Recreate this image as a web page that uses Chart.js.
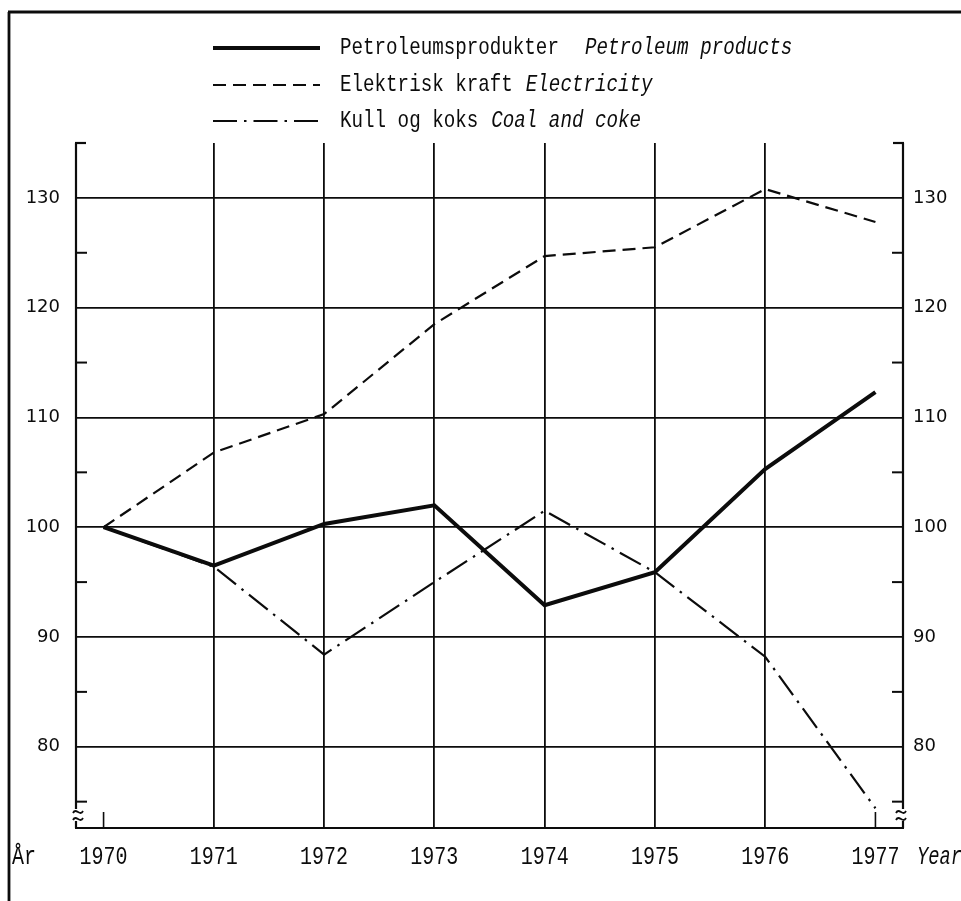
<!DOCTYPE html>
<html>
<head>
<meta charset="utf-8">
<title>Petroleum, electricity, coal 1970-1977</title>
<script src="https://cdn.jsdelivr.net/npm/chart.js@4.4.1/dist/chart.umd.min.js"></script>
<style>
  html, body { margin: 0; padding: 0; background: #fff; }
  canvas { display: block; }
</style>
</head>
<body>
<canvas id="chart" width="961" height="901"></canvas>
<script>
"use strict";
// ========== DATA ========== //
const years = [1970, 1971, 1972, 1973, 1974, 1975, 1976, 1977];
const petroleum = [100, 96.5, 100.3, 102.0, 92.9, 95.9, 105.3, 112.3];
const electricity = [100, 106.8, 110.3, 118.5, 124.7, 125.5, 130.8, 127.8];
const coal = [100, 96.4, 88.4, 95.0, 101.5, 95.9, 88.2, 74.4];
const yTicks = [80, 90, 100, 110, 120, 130];
const yMinorTicks = [75, 85, 95, 105, 115, 125];
const legendNo = ["Petroleumsprodukter", "Elektrisk kraft", "Kull og koks"];
const legendEn = ["Petroleum products", "Electricity", "Coal and coke"];

const INK = "#0c0c0c";
const typeFont = "'Liberation Mono', 'DejaVu Sans Mono', monospace";

// turn a year list + value list into {x, y} points
function toPoints(values) {
  return years.map(function(year, i) { return { x: year, y: values[i] }; });
}

// draw text squeezed horizontally, like the narrow typewriter face
function squeezed(ctx, text, x, y, font, sx, align) {
  ctx.save();
  ctx.font = font;
  let w = ctx.measureText(text).width * sx;
  let left = x;
  if (align === "center") left = x - w / 2;
  if (align === "right") left = x - w;
  ctx.translate(left, y);
  ctx.scale(sx, 1);
  ctx.textAlign = "left";
  ctx.textBaseline = "middle";
  ctx.fillText(text, 0, 0);
  ctx.restore();
  return w;
}

function line(ctx, x1, y1, x2, y2, width, dash) {
  ctx.save();
  ctx.strokeStyle = INK;
  ctx.lineWidth = width;
  ctx.setLineDash(dash || []);
  ctx.beginPath();
  ctx.moveTo(x1, y1);
  ctx.lineTo(x2, y2);
  ctx.stroke();
  ctx.restore();
}

// small "~" style break mark on the frame
function breakMark(ctx, x, y) {
  ctx.save();
  ctx.strokeStyle = INK;
  ctx.lineWidth = 1.8;
  for (let k = 0; k < 2; k++) {
    let yy = y + k * 7;
    ctx.beginPath();
    ctx.moveTo(x - 5, yy + 2);
    ctx.bezierCurveTo(x - 2, yy - 4, x + 2, yy + 6, x + 5, yy);
    ctx.stroke();
  }
  ctx.restore();
}

const seriesStyles = [
  { width: 4, dash: [] },
  { width: 2.2, dash: [13, 7] },
  { width: 2.2, dash: [24, 7, 2.5, 7] }
];

const framePlugin = {
  id: "frame",
  afterDraw(chart) {
    const ctx = chart.ctx;
    const area = chart.chartArea;
    const xs = chart.scales.x;
    const ys = chart.scales.y;

    // outer page border
    line(ctx, 9, 12, 9, 901, 2.8);
    line(ctx, 8, 12, 961, 12, 2.8);

    // plot frame: sides, bottom and top caps
    line(ctx, area.left, area.top, area.left, area.bottom, 2.2);
    line(ctx, area.right, area.top, area.right, area.bottom, 2.2);
    line(ctx, area.left - 1, area.bottom, area.right + 1, area.bottom, 2.2);
    line(ctx, area.left - 1, area.top, area.left + 10, area.top, 2.2);
    line(ctx, area.right - 10, area.top, area.right + 1, area.top, 2.2);

    // minor ticks on both sides
    for (let v of yMinorTicks) {
      let py = ys.getPixelForValue(v);
      line(ctx, area.left, py, area.left + 11, py, 2);
      line(ctx, area.right - 11, py, area.right, py, 2);
    }
    // short ticks for the end years
    for (let yr of [years[0], years[years.length - 1]]) {
      let px = xs.getPixelForValue(yr);
      line(ctx, px, area.bottom - 16, px, area.bottom, 1.6);
    }
    // axis break marks
    ctx.save();
    ctx.fillStyle = "#fff";
    ctx.fillRect(area.left - 3, area.bottom - 19, 6, 12);
    ctx.fillRect(area.right - 3, area.bottom - 19, 6, 12);
    ctx.restore();
    breakMark(ctx, area.left + 2, area.bottom - 17);
    breakMark(ctx, area.right - 2, area.bottom - 17);

    // y labels, left and right
    ctx.save();
    ctx.fillStyle = INK;
    ctx.font = "18px 'DejaVu Sans', sans-serif";
    ctx.textBaseline = "middle";
    for (let v of yTicks) {
      let py = ys.getPixelForValue(v);
      ctx.textAlign = "right";
      ctx.fillText(String(v), 60, py);
      ctx.textAlign = "left";
      ctx.fillText(String(v), 913, py);
    }
    ctx.restore();

    // x labels
    ctx.save();
    ctx.fillStyle = INK;
    for (let yr of years) {
      squeezed(ctx, String(yr), xs.getPixelForValue(yr), 857, "25px " + typeFont, 0.8, "center");
    }
    squeezed(ctx, "År", 12, 857, "25px " + typeFont, 0.8, "left");
    squeezed(ctx, "Year", 917, 857, "italic 25px " + typeFont, 0.75, "left");
    ctx.restore();

    // legend
    const legendY = [48, 85, 121];
    ctx.save();
    ctx.fillStyle = INK;
    for (let i = 0; i < legendNo.length; i++) {
      let st = seriesStyles[i];
      line(ctx, 213, legendY[i], 320, legendY[i], st.width, st.dash);
      let w = squeezed(ctx, legendNo[i], 340, legendY[i], "24px " + typeFont, 0.8, "left");
      squeezed(ctx, legendEn[i], 340 + w + (i === 0 ? 26 : 13), legendY[i], "italic 24px " + typeFont, 0.8, "left");
    }
    ctx.restore();
  }
};

// full gridlines only on the labelled tens
function gridColor(c) {
  return c.tick && c.tick.value % 10 === 0 ? INK : "rgba(0,0,0,0)";
}

const chart = new Chart(document.querySelector("#chart"), {
  type: "line",
  data: {
    datasets: [
      { label: legendNo[0], data: toPoints(petroleum) },
      { label: legendNo[1], data: toPoints(electricity) },
      { label: legendNo[2], data: toPoints(coal) }
    ].map(function(ds, i) {
      ds.borderColor = INK;
      ds.borderWidth = seriesStyles[i].width;
      ds.borderDash = seriesStyles[i].dash;
      ds.pointRadius = 0;
      ds.tension = 0;
      ds.fill = false;
      ds.borderJoinStyle = "miter";
      return ds;
    })
  },
  options: {
    responsive: false,
    animation: false,
    events: [],
    layout: { padding: { left: 76, right: 58, top: 143, bottom: 73 } },
    plugins: { legend: { display: false }, tooltip: { enabled: false } },
    scales: {
      x: {
        type: "linear",
        min: 1969.75,
        max: 1977.25,
        ticks: { display: false, stepSize: 1 },
        border: { display: false },
        grid: {
          drawTicks: false,
          lineWidth: 1.8,
          color: function(c) {
            let v = c.tick && c.tick.value;
            return v > years[0] && v < years[years.length - 1] && Number.isInteger(v) ? INK : "rgba(0,0,0,0)";
          }
        }
      },
      y: {
        min: 72.6,
        max: 135,
        ticks: { display: false, stepSize: 10 },
        border: { display: false },
        grid: { drawTicks: false, lineWidth: 1.8, color: gridColor }
      }
    }
  },
  plugins: [framePlugin]
});
</script>
</body>
</html>
